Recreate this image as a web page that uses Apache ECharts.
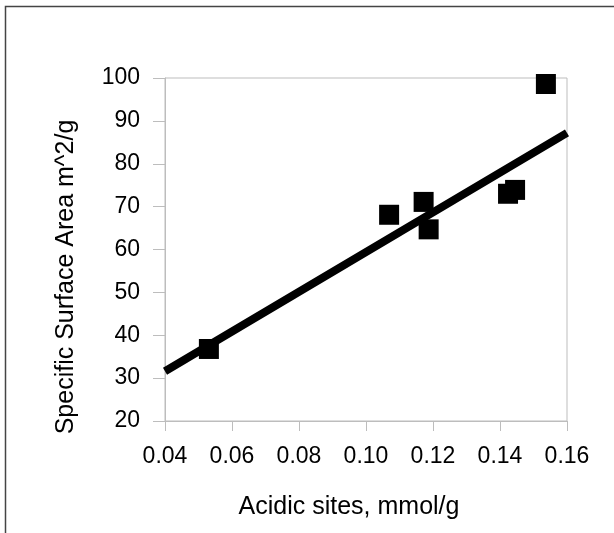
<!DOCTYPE html>
<html>
<head>
<meta charset="utf-8">
<script src="https://cdn.jsdelivr.net/npm/echarts@6/dist/echarts.min.js"></script>
<style>
    html, body { margin: 0; padding: 0; background: #fff; }
    #chart { width: 614px; height: 533px; }
</style>
</head>
<body>
<div id="chart"></div>
<script>
// acidic sites (mmol/g) vs specific surface area (m^2/g)
const acidSites = [0.0531, 0.1069, 0.1172, 0.1187, 0.1424, 0.1445, 0.1537]
const surfaceArea = [36.8, 68.1, 71.1, 64.7, 73.0, 73.9, 98.6]
// linear trendline, end points
const trendX = [0.04, 0.16]
const trendY = [31.6, 87.2]

const font = 'Liberation Sans, Arial, sans-serif'

let chart = echarts.init(document.getElementById('chart'))
let option = {
    animation: false,
    backgroundColor: '#fff',
    graphic: [{
        type: 'rect',
        shape: { x: 5.5, y: 6.5, width: 800, height: 800 },
        style: { fill: 'none', stroke: '#444', lineWidth: 1.5 },
        silent: true
    }],
    grid: {
        left: 165,
        right: 47,
        top: 78,
        bottom: 112,
        show: true,
        borderColor: '#bdbdbd',
        borderWidth: 1
    },
    xAxis: {
        type: 'value',
        min: 0.04,
        max: 0.16,
        interval: 0.02,
        name: 'Acidic sites, mmol/g',
        nameLocation: 'middle',
        nameGap: 74,
        nameTextStyle: {
            fontFamily: font,
            fontSize: 25,
            color: '#000',
            padding: [0, 34, 0, 0]
        },
        axisLine: { show: true, lineStyle: { color: '#bdbdbd' } },
        axisTick: { show: true, length: 10, lineStyle: { color: '#bdbdbd' } },
        splitLine: { show: false },
        axisLabel: {
            fontFamily: font,
            fontSize: 23,
            color: '#000',
            margin: 24,
            formatter: v => v.toFixed(2)
        }
    },
    yAxis: {
        type: 'value',
        min: 20,
        max: 100,
        interval: 10,
        name: 'Specific Surface Area m^2/g',
        nameLocation: 'middle',
        nameGap: 86,
        nameTextStyle: {
            fontFamily: font,
            fontSize: 25,
            color: '#000',
            padding: [0, 55, 0, 0]
        },
        axisLine: { show: true, lineStyle: { color: '#bdbdbd' } },
        axisTick: { show: true, length: 12, lineStyle: { color: '#bdbdbd' } },
        splitLine: { show: false },
        axisLabel: {
            fontFamily: font,
            fontSize: 23,
            color: '#000',
            margin: 25
        }
    },
    series: [
        {
            type: 'line',
            data: trendX.map((x, i) => [x, trendY[i]]),
            showSymbol: false,
            symbol: 'none',
            lineStyle: { color: '#000', width: 8 },
            z: 2
        },
        {
            type: 'scatter',
            data: acidSites.map((x, i) => [x, surfaceArea[i]]),
            symbol: 'rect',
            symbolSize: 20,
            itemStyle: { color: '#000', opacity: 1 },
            z: 3
        }
    ]
}
chart.setOption(option)
</script>
</body>
</html>
